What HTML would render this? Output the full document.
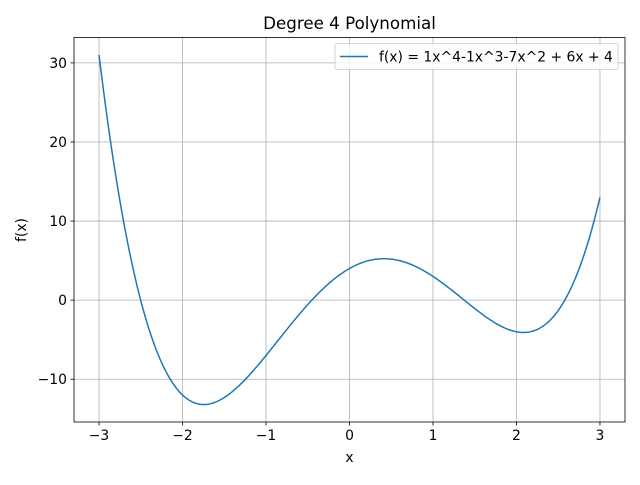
<!DOCTYPE html>
<html><head><meta charset="utf-8"><style>
body{margin:0;background:#fff;}
svg text{font-family:"DejaVu Sans","Liberation Sans",sans-serif;fill:#000;}
</style></head><body>
<svg id="chart" width="640" height="480" viewBox="0 0 640 480">
<rect width="640" height="480" fill="#fff"/>
<g id="grid"></g>
<g id="xticks"></g>
<g id="yticks"></g>
<path id="curve" fill="none" stroke="#1f77b4" stroke-width="1.5"/>
<rect x="74" y="37.5" width="551" height="384.5" fill="none" stroke="#000" stroke-width="0.8"/>
<text x="349.5" y="29" text-anchor="middle" font-size="16.7">Degree 4 Polynomial</text>
<text x="349.5" y="462" text-anchor="middle" font-size="13.9">x</text>
<text transform="translate(26,230) rotate(-90)" text-anchor="middle" font-size="13.9">f(x)</text>
<g>
<rect x="335" y="43.5" width="283" height="26" rx="2" fill="#fff" fill-opacity="0.8" stroke="#ccc" stroke-width="0.8"/>
<line x1="340" y1="56.5" x2="368" y2="56.5" stroke="#1f77b4" stroke-width="1.5"/>
<text id="legendText" x="379" y="61.5" font-size="13.9"></text>
</g>
</svg>
<script>
const coefficients = [1, -1, -7, 6, 4];
const xTicks = [-3, -2, -1, 0, 1, 2, 3];
const yTicks = [-10, 0, 10, 20, 30];
const xDomain = [-3, 3];

const ns = "http://www.w3.org/2000/svg";
function f(x){let v=0;for(const c of coefficients){v=v*x+c;}return v;}
const N=400;
const xs=[],ys=[];
for(let i=0;i<=N;i++){const x=xDomain[0]+(xDomain[1]-xDomain[0])*i/N;xs.push(x);ys.push(f(x));}
const xmin=xDomain[0],xmax=xDomain[1];
const xpad=(xmax-xmin)*0.05;
const ymin0=Math.min(...ys),ymax0=Math.max(...ys),ypad=(ymax0-ymin0)*0.05;
const L=74,R=625,T=37.5,B=422;
function sx(x){return L+(x-(xmin-xpad))/((xmax+xpad)-(xmin-xpad))*(R-L);}
function sy(y){return B-(y-(ymin0-ypad))/((ymax0+ypad)-(ymin0-ypad))*(B-T);}
let d="";xs.forEach((x,i)=>{d+=(i?"L":"M")+sx(x).toFixed(2)+","+sy(ys[i]).toFixed(2);});
document.getElementById("curve").setAttribute("d",d);
const grid=document.getElementById("grid"),gx=document.getElementById("xticks"),gy=document.getElementById("yticks");
function mk(tag,attrs,parent){const e=document.createElementNS(ns,tag);for(const k in attrs)e.setAttribute(k,attrs[k]);parent.appendChild(e);return e;}
function fmt(v){return v<0?"\u2212"+Math.abs(v):String(v);}
xTicks.forEach(v=>{const x=sx(v);
 const g=mk("line",{x1:x,x2:x,y1:T,y2:B,stroke:"#b0b0b0","stroke-width":0.8},grid);
 
 
 const t=mk("line",{x1:x,x2:x,y1:B,y2:B+3.5,stroke:"#000","stroke-width":0.8},gx);
 
 
 const l=mk("text",{x:x,y:B+18,"text-anchor":"middle","font-size":13.9},gx);l.textContent=fmt(v);
 
 
});
yTicks.forEach(v=>{const y=sy(v);
 const g=mk("line",{x1:L,x2:R,y1:y,y2:y,stroke:"#b0b0b0","stroke-width":0.8},grid);
 
 
 const t=mk("line",{x1:L-3.5,x2:L,y1:y,y2:y,stroke:"#000","stroke-width":0.8},gy);
 
 
 const l=mk("text",{x:L-7,y:y+5,"text-anchor":"end","font-size":13.9},gy);l.textContent=fmt(v);
 
 
});
const c=coefficients;
document.getElementById("legendText").textContent=`f(x) = ${c[0]}x^4${c[1]<0?"":"+"}${c[1]}x^3${c[2]<0?"":"+"}${c[2]}x^2 + ${c[3]}x + ${c[4]}`;
</script>
</body></html>
